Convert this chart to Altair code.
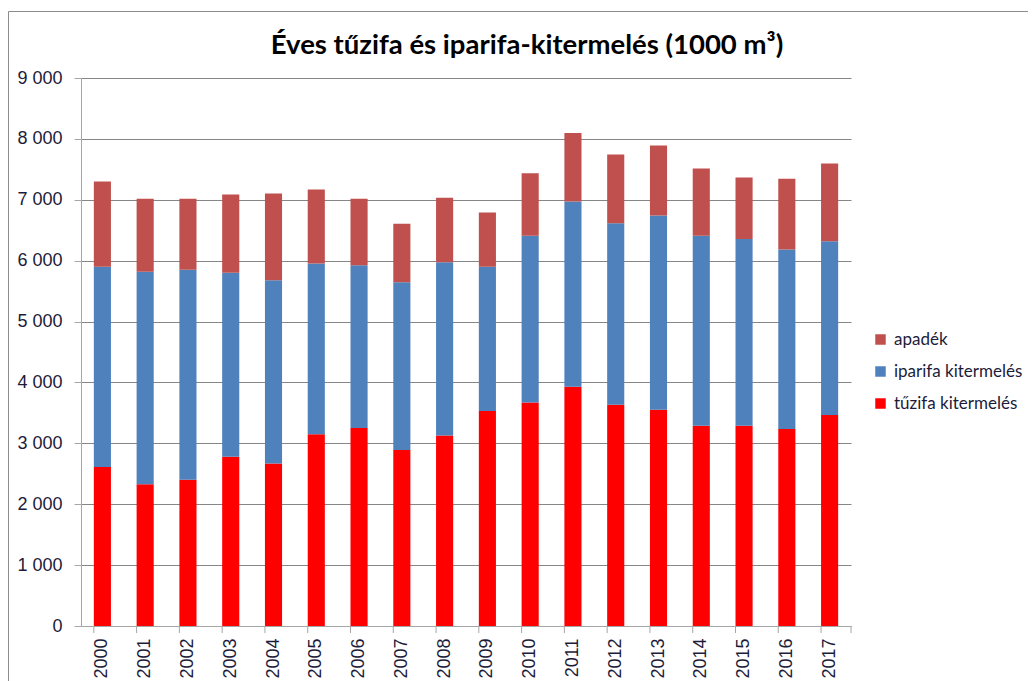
import altair as alt
import pandas as pd

years = [str(y) for y in range(2000, 2018)]
tuzifa = [2610, 2330, 2400, 2780, 2670, 3150, 3250, 2890, 3130, 3530, 3670, 3930, 3635, 3550, 3290, 3290, 3235, 3465]
iparifa = [3290, 3490, 3450, 3020, 3010, 2805, 2675, 2755, 2845, 2370, 2740, 3040, 2980, 3190, 3120, 3065, 2950, 2855]
apadek = [1400, 1195, 1165, 1285, 1425, 1215, 1090, 960, 1060, 890, 1025, 1125, 1130, 1150, 1105, 1010, 1160, 1275]

title_text = "Éves tűzifa és iparifa-kitermelés (1000 m³)"
series_names = ["apadék", "iparifa kitermelés", "tűzifa kitermelés"]
series_colors = ["#C0504D", "#4F81BD", "#FF0000"]
stack_order = {"tűzifa kitermelés": 0, "iparifa kitermelés": 1, "apadék": 2}

rows = []
for i, y in enumerate(years):
    rows.append({"year": y, "series": "tűzifa kitermelés", "value": tuzifa[i]})
    rows.append({"year": y, "series": "iparifa kitermelés", "value": iparifa[i]})
    rows.append({"year": y, "series": "apadék", "value": apadek[i]})
df = pd.DataFrame(rows)
df["ord"] = df["series"].map(stack_order)

W, H = 770, 548
label_color = "#1C1C3A"

x_enc = alt.X(
    "year:N",
    sort=years,
    scale=alt.Scale(paddingInner=0.6, paddingOuter=0.3),
    axis=alt.Axis(
        title=None, labelAngle=-90, labelFont="Liberation Sans", labelFontSize=18,
        labelColor=label_color, ticks=False, domainColor="#A6A6A6", labelPadding=12,
        labelAlign="right", labelBaseline="middle",
    ),
)

bars = alt.Chart(df).mark_bar().encode(
    x=x_enc,
    y=alt.Y(
        "value:Q",
        stack="zero",
        scale=alt.Scale(domain=[0, 9000], nice=False),
        axis=alt.Axis(
            title=None, values=list(range(0, 9001, 1000)),
            labelExpr="replace(format(datum.value, ','), ',', ' ')",
            labelFont="Liberation Sans", labelFontSize=18, labelColor=label_color,
            gridColor="#868686", gridWidth=1, domainColor="#A6A6A6",
            tickColor="#A6A6A6", tickSize=7, labelPadding=12,
        ),
    ),
    color=alt.Color(
        "series:N",
        scale=alt.Scale(domain=series_names, range=series_colors),
        legend=alt.Legend(
            title=None, orient="none", legendX=791, legendY=253,
            symbolType="square", symbolSize=110, symbolStrokeWidth=0,
            labelFont="Lato", labelFontSize=17, labelColor=label_color,
            rowPadding=14, labelOffset=5,
        ),
    ),
    order=alt.Order("ord:Q", sort="ascending"),
)

tick_df = pd.DataFrame({"year": years})
xticks = alt.Chart(tick_df).mark_rule(color="#A6A6A6").encode(
    x=alt.X("year:N", sort=years, bandPosition=0),
    y=alt.value(H), y2=alt.value(H + 7),
)
one = pd.DataFrame({"a": [0]})
last_tick = alt.Chart(one).mark_rule(color="#A6A6A6").encode(
    x=alt.value(W), y=alt.value(H), y2=alt.value(H + 7),
)
border = alt.Chart(one).mark_rect(
    fill=None, stroke="#8C8C8C", strokeWidth=1
).encode(
    x=alt.value(-72.5), y=alt.value(-66.5), x2=alt.value(W + 300), y2=alt.value(H + 300),
)
title = alt.Chart(pd.DataFrame({"t": [title_text]})).mark_text(
    font="Lato", fontSize=27.5, fontWeight="bold", color="#000000",
    align="center", baseline="alphabetic",
).encode(
    text="t:N", x=alt.value(446), y=alt.value(-24),
)

chart = alt.layer(border, bars, xticks, last_tick, title).properties(
    width=W,
    height=H,
    padding={"left": 73, "top": 70, "right": 177, "bottom": 55},
    autosize=alt.AutoSizeParams(type="none"),
).configure_view(stroke=None).configure_axis(grid=True).configure_axisX(grid=False)

chart.save("out.html", embed_options={"renderer": "svg", "actions": False})
